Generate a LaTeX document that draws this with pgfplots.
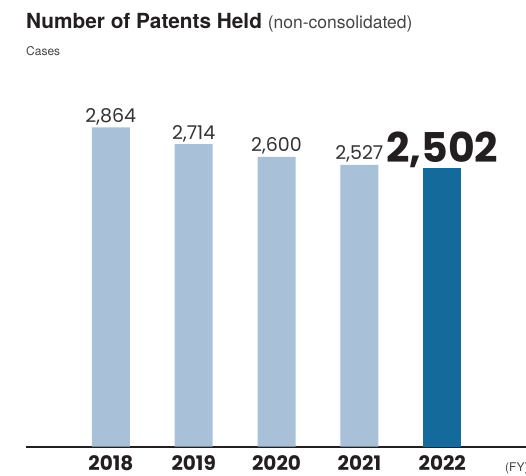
\documentclass[border=0pt]{standalone}
\usepackage{fontspec}
\setmainfont{TeX Gyre Heros}
\newfontfamily\pop{Poppins}
\usepackage{pgfplots}
\pgfplotsset{compat=1.18}
\definecolor{lightbar}{HTML}{A8C0D8}
\definecolor{darkbar}{HTML}{136A9B}
\definecolor{txt}{HTML}{231F20}
\definecolor{txtb}{HTML}{333333}
\definecolor{txtg}{HTML}{444444}
\begin{document}
\begin{tikzpicture}[x=1pt,y=1pt]
\useasboundingbox (0,0) rectangle (526,475);
\node[anchor=base west, inner sep=0pt, text=txt] at (26,446)
  {\fontsize{20.8}{24}\selectfont\bfseries Number of Patents Held
   {\fontsize{17.5}{20}\selectfont\mdseries\color{txtg}(non-consolidated)}};
\node[anchor=base west, inner sep=0pt, text=txtg] at (26,419)
  {\fontsize{12}{14}\selectfont Cases};
\node[anchor=base west, inner sep=0pt, text=txtg] at (505,4)
  {\fontsize{12}{14}\selectfont (FY)};
\begin{axis}[
  at={(26pt,28.3pt)}, anchor=south west,
  scale only axis, width=500pt, height=400pt,
  xmin=-1.0235, xmax=5.011, ymin=0, ymax=3587,
  axis x line=bottom, axis y line=none,
  x axis line style={-, line width=2.2pt, color=txt},
  xtick={0,1,2,3,4}, xticklabels={2018,2019,2020,2021,2022},
  major tick length=0pt,
  xticklabel style={font=\pop\bfseries\fontsize{20}{24}\selectfont, text=txt, anchor=base, yshift=-24pt, inner sep=0pt},
  ytick=\empty,
  ybar, bar width=38pt, bar shift=0pt,
  clip=false,
  point meta=explicit symbolic,
  nodes near coords,
  every node near coord/.append style={anchor=base, yshift=5pt, inner sep=0pt},
]
\addplot[fill=lightbar, draw=none,
  nodes near coords style={font=\pop\fontsize{19}{22}\selectfont, text=txtb}]
  coordinates {(0,2864) [{2,864}] (1,2714) [{2,714}] (2,2600) [{2,600}] (3,2527) [{2,527}]};
\addplot[fill=darkbar, draw=none,
  nodes near coords style={font=\pop\bfseries\fontsize{41}{46}\selectfont, text=txt}]
  coordinates {(4,2502) [{2,502}]};
\end{axis}
\end{tikzpicture}
\end{document}
